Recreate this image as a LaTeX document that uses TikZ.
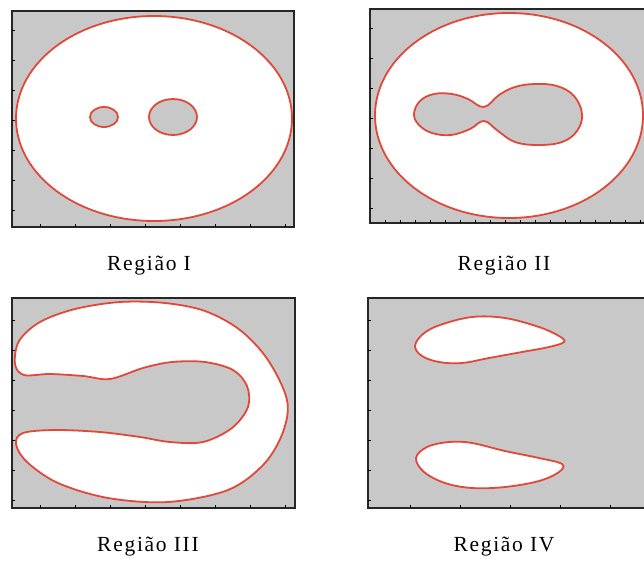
\documentclass[tikz,border=0pt]{standalone}
\usepackage{fontspec}
\usepackage{tikz}
\usetikzlibrary{positioning}
\newfontfamily\capfont{Liberation Serif}[LetterSpace=8]
\definecolor{panelgrey}{HTML}{C8C8C8}
\definecolor{curvered}{HTML}{E2483A}

\begin{document}
\begin{tikzpicture}[
  x=1pt, y=-1pt,
  frame/.style={draw=black!85, line width=1.3pt, fill=panelgrey},
  inside/.style={draw=curvered, line width=1.8pt, fill=white},
  hole/.style={draw=curvered, line width=1.8pt, fill=panelgrey},
  tick/.style={draw=black, line width=0.6pt},
  caption/.style={font=\capfont\fontsize{21.5}{24}\selectfont, inner sep=0pt}
]
\useasboundingbox (0,0) rectangle (644,560);
\clip (0,0) rectangle (644,560);

% Regiao I
\draw[frame] (12,11) rectangle (294,227);
\draw[inside] (154,118.5) ellipse [x radius=138, y radius=102.5];
\draw[hole] (104,117) ellipse [x radius=14, y radius=10];
\draw[hole] (173,117) ellipse [x radius=24, y radius=18];

% Regiao II
\draw[frame] (370,9) rectangle (652,223);
\draw[inside] (509,115.5) ellipse [x radius=134, y radius=102.5];
\draw[hole] plot[smooth cycle, tension=0.65] coordinates {
  (414,114) (420,101) (434,94) (452,94) (468,99) (484,107)
  (499,95) (515,87) (535,84) (557,86) (574,96) (582,114)
  (577,131) (562,142) (538,145) (515,142) (498,131) (484,121)
  (470,129) (451,135) (432,133) (419,125)};

% Regiao III
\draw[frame] (12,298) rectangle (295,508);
\draw[inside] plot[smooth cycle, tension=0.55] coordinates {
  (15,364) (19,341) (40,322) (75,309) (120,302) (165,303)
  (205,311) (240,330) (268,360) (287,400) (283,432) (264,464)
  (228,490) (168,502) (108,498) (58,483) (27,462) (16,444)
  (23,433) (55,430) (100,432) (140,437) (170,442) (203,442)
  (232,428) (248,407) (247,386) (233,370) (205,362) (172,362)
  (143,368) (110,379) (83,376) (50,374) (24,375)};

% Regiao IV
\draw[frame] (368,298) rectangle (652,508);
\draw[inside] plot[smooth cycle, tension=0.6] coordinates {
  (415,346) (423,334) (440,325) (472,317) (505,318) (539,327)
  (559,336) (564,342) (549,347) (522,352) (489,358) (462,363)
  (439,362) (422,356)};
\draw[inside] plot[smooth cycle, tension=0.6] coordinates {
  (416,458) (427,447) (449,442) (472,443) (505,451) (539,458)
  (562,464) (559,472) (539,481) (505,487) (472,488) (445,483)
  (424,472)};

% tick marks
\foreach \y in {30,60,...,210} {
  \draw[tick] (12,\y) -- +(3,0);
  \draw[tick] (370,\y-2) -- +(3,0);
}
\foreach \y in {320,350,...,500} {
  \draw[tick] (12,\y) -- +(3,0);
  \draw[tick] (368,\y) -- +(3,0);
}
\foreach \x in {40,75,...,290} {
  \draw[tick] (\x,227) -- +(0,-3);
  \draw[tick] (\x,508) -- +(0,-3);
}
\foreach \x in {385,400,...,640} {
  \draw[tick] (\x,223) -- +(0,-3);
}
\foreach \x in {410,460,...,640} {
  \draw[tick] (\x,508) -- +(0,-3);
}

% captions
\node[caption] (capA) at (149,266) {Região I};
\node[caption] (capB) at (504,266) {Região II};
\node[caption] (capC) at (148,547) {Região III};
\node[caption] (capD) at (504,547) {Região IV};
\end{tikzpicture}
\end{document}
